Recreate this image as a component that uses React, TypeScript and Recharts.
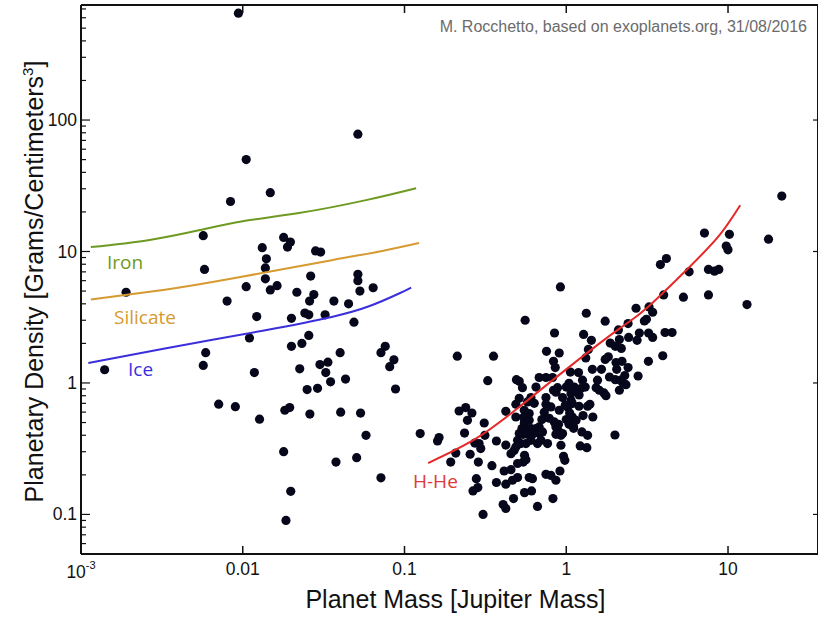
import React from 'react';
import { ScatterChart, Scatter, XAxis, YAxis, ReferenceLine, Label } from 'recharts';

// planets below ~0.1 Jupiter masses: [mass (Mj), density (g/cm3)]
const smallPlanets: [number, number][] = [
  [0.0094, 650], [0.0515, 78], [0.0105, 50], [0.0148, 28], [0.0084, 24],
  [0.0057, 13.2], [0.0179, 12.8], [0.0197, 11.8], [0.0189, 10.8], [0.0132, 10.7],
  [0.0282, 10.1], [0.0303, 9.9], [0.014, 8.8], [0.0058, 7.3], [0.0138, 7.5],
  [0.0515, 6.7], [0.0263, 6.5], [0.0515, 6.0], [0.0138, 6.2], [0.0105, 5.4],
  [0.0163, 5.5], [0.064, 5.3], [0.0148, 5.1], [0.053, 5.0], [0.0019, 4.9],
  [0.0216, 4.9], [0.0275, 4.7], [0.008, 4.2], [0.0259, 4.2], [0.0366, 4.2],
  [0.0451, 4.0], [0.0122, 3.2], [0.0242, 3.4], [0.0256, 3.3], [0.02, 3.1],
  [0.0323, 3.3], [0.0487, 2.9], [0.011, 2.2], [0.0256, 2.3], [0.0232, 2.0],
  [0.02, 1.9], [0.076, 1.9], [0.0715, 1.7], [0.0059, 1.7], [0.04, 1.7],
  [0.086, 1.5], [0.0336, 1.44], [0.03, 1.38], [0.081, 1.33], [0.0057, 1.36],
  [0.0225, 1.28], [0.0014, 1.26], [0.0118, 1.2], [0.0326, 1.2], [0.0432, 1.07],
  [0.0349, 1.02], [0.025, 0.89], [0.029, 0.91], [0.088, 0.9], [0.0071, 0.69],
  [0.009, 0.66], [0.0195, 0.65], [0.0182, 0.62], [0.0403, 0.6], [0.026, 0.58],
  [0.0535, 0.59], [0.0127, 0.53], [0.0578, 0.4], [0.0179, 0.3], [0.0506, 0.27],
  [0.0377, 0.25], [0.0715, 0.19], [0.0198, 0.15], [0.0185, 0.09],
];

// gas giants
const giantPlanets: [number, number][] = [
  [21.5, 26.4], [7.15, 13.8], [10.2, 13.5], [17.8, 12.4], [9.75, 11.0],
  [10.0, 10.3], [4.16, 8.85], [3.82, 7.96], [5.75, 7.0], [7.57, 7.3],
  [8.25, 7.08], [8.77, 7.3], [0.92, 5.38], [4.0, 4.67], [5.3, 4.49],
  [7.57, 4.67], [13.1, 3.95], [2.7, 3.7], [3.25, 3.79], [3.42, 3.45],
  [1.33, 3.39], [3.13, 3.05], [3.04, 2.96], [0.557, 3.0], [1.74, 2.95],
  [2.41, 2.83], [2.1, 2.53], [0.846, 2.4], [1.28, 2.34], [2.83, 2.4],
  [3.23, 2.4], [4.08, 2.42], [4.51, 2.42], [1.43, 2.11], [2.43, 2.22],
  [2.74, 2.11], [3.42, 2.22], [1.87, 2.01], [2.13, 2.14], [2.01, 1.9],
  [2.19, 1.83], [1.37, 1.8], [0.755, 1.74], [0.905, 1.69], [3.95, 1.61],
  [1.32, 1.55], [0.212, 1.6], [0.355, 1.6], [1.82, 1.58], [1.74, 1.51],
  [0.834, 1.46], [0.855, 1.31], [2.03, 1.43], [2.21, 1.46], [3.22, 1.46],
  [1.45, 1.27], [1.65, 1.27], [2.05, 1.27], [2.41, 1.31], [1.06, 1.21],
  [1.19, 1.2], [1.85, 1.11], [2.01, 1.06], [2.17, 1.05], [2.3, 1.14],
  [2.78, 1.13], [0.327, 1.04], [0.492, 1.06], [0.512, 1.03], [0.68, 1.1],
  [0.749, 1.1], [0.823, 1.1], [2.23, 1.01], [2.34, 0.97], [0.536, 0.92],
  [0.65, 0.93], [0.883, 0.92], [1.0, 0.93], [1.07, 0.93], [1.12, 0.93],
  [1.17, 0.88], [1.23, 0.906], [1.31, 0.93], [1.53, 0.92], [1.6, 0.88],
  [1.71, 0.84], [1.76, 0.8], [2.13, 0.88], [1.2, 0.81], [1.07, 0.83],
  [0.834, 0.88], [0.863, 0.85], [0.605, 0.774], [0.576, 0.717], [0.512, 0.765],
  [0.488, 0.689], [0.749, 0.774], [0.749, 0.689], [0.804, 0.657], [0.949, 0.774],
  [1.07, 0.738], [1.02, 0.657], [1.09, 0.697], [0.986, 0.677], [1.2, 0.665],
  [1.4, 0.689], [1.355, 0.665], [0.2175, 0.612], [0.239, 0.65], [0.261, 0.591],
  [0.423, 0.609], [0.55, 0.62], [0.59, 0.585], [0.488, 0.551], [0.544, 0.545],
  [1.09, 0.551], [1.05, 0.591], [1.27, 0.565], [1.46, 0.551], [0.245, 0.52],
  [0.311, 0.496], [0.707, 0.527], [0.843, 0.505], [0.896, 0.485], [1.0, 0.527],
  [1.04, 0.485], [1.11, 0.463], [0.55, 0.496], [0.532, 0.45], [0.563, 0.45],
  [0.605, 0.45], [0.65, 0.45], [0.68, 0.463], [0.863, 0.463], [0.896, 0.431],
  [0.949, 0.412], [1.11, 0.452], [1.25, 0.424], [1.355, 0.4], [2.0, 0.402],
  [0.125, 0.412], [0.235, 0.416], [0.314, 0.4], [0.1635, 0.384], [0.16, 0.362],
  [0.512, 0.412], [0.542, 0.407], [0.576, 0.407], [0.618, 0.407], [0.68, 0.412],
  [0.713, 0.424], [0.863, 0.407], [0.927, 0.4], [0.5, 0.366], [0.524, 0.346],
  [0.563, 0.346], [0.605, 0.366], [0.664, 0.346], [0.697, 0.366], [0.766, 0.346],
  [0.927, 0.336], [0.272, 0.349], [0.289, 0.346], [0.296, 0.317], [0.37, 0.362],
  [0.423, 0.337], [1.22, 0.332], [1.34, 0.322], [0.2075, 0.293], [0.2545, 0.287],
  [0.286, 0.25], [0.193, 0.25], [0.347, 0.235], [0.455, 0.29], [0.476, 0.307],
  [0.552, 0.282], [0.542, 0.25], [0.563, 0.261], [0.962, 0.277], [0.98, 0.258],
  [0.278, 0.187], [0.284, 0.16], [0.265, 0.151], [0.37, 0.175], [0.413, 0.214],
  [0.455, 0.219], [0.423, 0.17], [0.465, 0.182], [0.5, 0.191], [0.59, 0.191],
  [0.618, 0.187], [0.749, 0.202], [0.804, 0.198], [0.863, 0.182], [0.914, 0.214],
  [0.552, 0.1465], [0.61, 0.151], [0.472, 0.132], [0.407, 0.119], [0.423, 0.111],
  [0.664, 0.115], [0.827, 0.132], [0.306, 0.1], [0.5, 0.244], [0.488, 0.326],
  [1.04, 0.995], [1.26, 1.05], [1.56, 1.05], [0.634, 0.7], [0.731, 0.598],
  [0.905, 0.62], [1.15, 0.52], [0.785, 0.539], [0.59, 0.52],
];

// composition curves
const ironCurve: [number, number][] = [
  [0.00115, 10.8], [0.0026, 12.2], [0.00535, 14.5], [0.01, 17.0], [0.0222, 19.6], [0.0578, 24.6], [0.118, 30.3],
];
const silicateCurve: [number, number][] = [
  [0.00115, 4.31], [0.0033, 5.12], [0.0086, 6.23], [0.0355, 8.59], [0.0729, 10.1], [0.123, 11.6],
];
const iceCurve: [number, number][] = [
  [0.00111, 1.42], [0.0033, 1.83], [0.0138, 2.52], [0.0355, 3.18], [0.0603, 3.83], [0.0925, 4.79], [0.11, 5.32],
];
const hHeCurve: [number, number][] = [
  [0.14, 0.246], [0.276, 0.377], [0.512, 0.657], [1.04, 1.32], [2.13, 2.59], [3.12, 3.68], [5.78, 7.63], [8.86, 13.3], [11.9, 22.5],
];

const X_TICKS = [0.001, 0.01, 0.1, 1, 10];
const X_LABELS = ['', '0.01', '0.1', '1', '10'];
const Y_MAJOR = [0.1, 1, 10, 100];
const Y_TICKS = [
  0.06, 0.07, 0.08, 0.09, 0.1, 0.2, 0.3, 0.4, 0.5, 0.6, 0.7, 0.8, 0.9,
  1, 2, 3, 4, 5, 6, 7, 8, 9, 10, 20, 30, 40, 50, 60, 70, 80, 90,
  100, 200, 300, 400, 500, 600, 700,
];

const W = 818;
const H = 617;
const PLOT_TOP = 5;
const PLOT_RIGHT = 818;
const AXIS = '#111';
const DOT = '#07071c';
const SANS = '"Liberation Sans", Arial, Helvetica, sans-serif';
const HUMANIST = '"Open Sans", "Noto Sans", sans-serif';

const toPts = (arr: [number, number][]) => arr.map(([m, d]) => ({ m, d }));

function XTick(props: any) {
  const { x, y, payload, index } = props;
  return (
    <g>
      <line x1={x} x2={x} y1={y} y2={y - 8} stroke={AXIS} strokeWidth={1.5} />
      <line x1={x} x2={x} y1={PLOT_TOP} y2={PLOT_TOP + 8} stroke={AXIS} strokeWidth={1.5} />
      {payload.value === 0.001 ? (
        <text x={x} y={y + 24} textAnchor="middle" fontFamily={SANS} fontSize={17.5} fill={AXIS}>
          10<tspan dy={-9} fontSize={11}>-3</tspan>
        </text>
      ) : (
        <text x={x} y={y + 21} textAnchor="middle" fontFamily={SANS} fontSize={17.5} fill={AXIS}>
          {X_LABELS[index] ?? String(payload.value)}
        </text>
      )}
    </g>
  );
}

function YTick(props: any) {
  const { x, y, payload } = props;
  const major = Y_MAJOR.includes(payload.value);
  return (
    <g>
      <line x1={x} x2={x + (major ? 9 : 5)} y1={y} y2={y} stroke={AXIS} strokeWidth={1.2} />
      {major && <line x1={PLOT_RIGHT} x2={PLOT_RIGHT - 5} y1={y} y2={y} stroke={AXIS} strokeWidth={1.2} />}
      {major && (
        <text x={x - 4} y={y + 6} textAnchor="end" fontFamily={SANS} fontSize={17.5} fill={AXIS}>
          {String(payload.value)}
        </text>
      )}
    </g>
  );
}

function XTitle(props: any) {
  const vb = props.viewBox;
  return (
    <text x={vb.x + vb.width / 2 + 6} y={vb.y + 54} textAnchor="middle" fontFamily={SANS} fontSize={25} fill={AXIS}>
      Planet Mass [Jupiter Mass]
    </text>
  );
}

function YTitle(props: any) {
  const vb = props.viewBox;
  const cx = 43;
  const cy = vb.y + vb.height / 2 + 2;
  return (
    <text x={cx} y={cy} transform={`rotate(-90 ${cx} ${cy})`} textAnchor="middle" fontFamily={SANS} fontSize={25} fill={AXIS}>
      Planetary Density [Grams/Centimeters<tspan dy={-10} fontSize={15}>3</tspan><tspan dy={10}>]</tspan>
    </text>
  );
}

const noDot = () => <g />;
const planetDot = (p: any) => <circle cx={p.cx} cy={p.cy} r={4.6} fill={DOT} />;

export default function App() {
  return (
    <div style={{ position: 'absolute', left: 0, top: 0, width: W, height: H, background: '#fff' }}>
      <ScatterChart width={W} height={H} margin={{ top: PLOT_TOP, right: W - PLOT_RIGHT, bottom: 0, left: 0 }}>
        <XAxis
          dataKey="m" type="number" scale="log" domain={[0.001, 36]} allowDataOverflow
          ticks={X_TICKS} interval={0} tick={XTick} tickLine={false} tickSize={0} tickMargin={0}
          axisLine={{ stroke: AXIS, strokeWidth: 2 }} height={63}
        >
          <Label content={XTitle} />
        </XAxis>
        <YAxis
          dataKey="d" type="number" scale="log" domain={[0.05, 750]} allowDataOverflow
          ticks={Y_TICKS} interval={0} tick={YTick} tickLine={false} tickSize={0} tickMargin={0}
          axisLine={{ stroke: AXIS, strokeWidth: 2 }} width={81}
        >
          <Label content={YTitle} />
        </YAxis>
        <ReferenceLine y={750} stroke={AXIS} strokeWidth={2} />
        <ReferenceLine x={36} stroke={AXIS} strokeWidth={2} />
        <Scatter data={toPts(smallPlanets)} shape={planetDot} isAnimationActive={false} />
        <Scatter data={toPts(giantPlanets)} shape={planetDot} isAnimationActive={false} />
        <Scatter data={toPts(ironCurve)} fill="#6e9a22" line={{ stroke: '#6e9a22', strokeWidth: 2 }} lineJointType="natural" shape={noDot} isAnimationActive={false} />
        <Scatter data={toPts(silicateCurve)} fill="#d69a30" line={{ stroke: '#d69a30', strokeWidth: 2 }} lineJointType="natural" shape={noDot} isAnimationActive={false} />
        <Scatter data={toPts(iceCurve)} fill="#3b2fdc" line={{ stroke: '#3b2fdc', strokeWidth: 2 }} lineJointType="natural" shape={noDot} isAnimationActive={false} />
        <Scatter data={toPts(hHeCurve)} fill="#e52828" line={{ stroke: '#e52828', strokeWidth: 2 }} lineJointType="natural" shape={noDot} isAnimationActive={false} />
      </ScatterChart>
      <svg width={W} height={H} style={{ position: 'absolute', left: 0, top: 0, pointerEvents: 'none' }}>
        <text x={807} y={32} textAnchor="end" fontFamily={SANS} fontSize={16} fill="#6b6b6b">
          M. Rocchetto, based on exoplanets.org, 31/08/2016
        </text>
        <text x={107} y={269} fontFamily={HUMANIST} fontSize={19} fill="#6e9a22">Iron</text>
        <text x={114} y={324} fontFamily={HUMANIST} fontSize={19} fill="#d69a30">Silicate</text>
        <text x={128} y={376} fontFamily={HUMANIST} fontSize={19} fill="#3b2fdc">Ice</text>
        <text x={413} y={488} fontFamily={HUMANIST} fontSize={19} fill="#dd3a3a">H-He</text>
      </svg>
    </div>
  );
}
